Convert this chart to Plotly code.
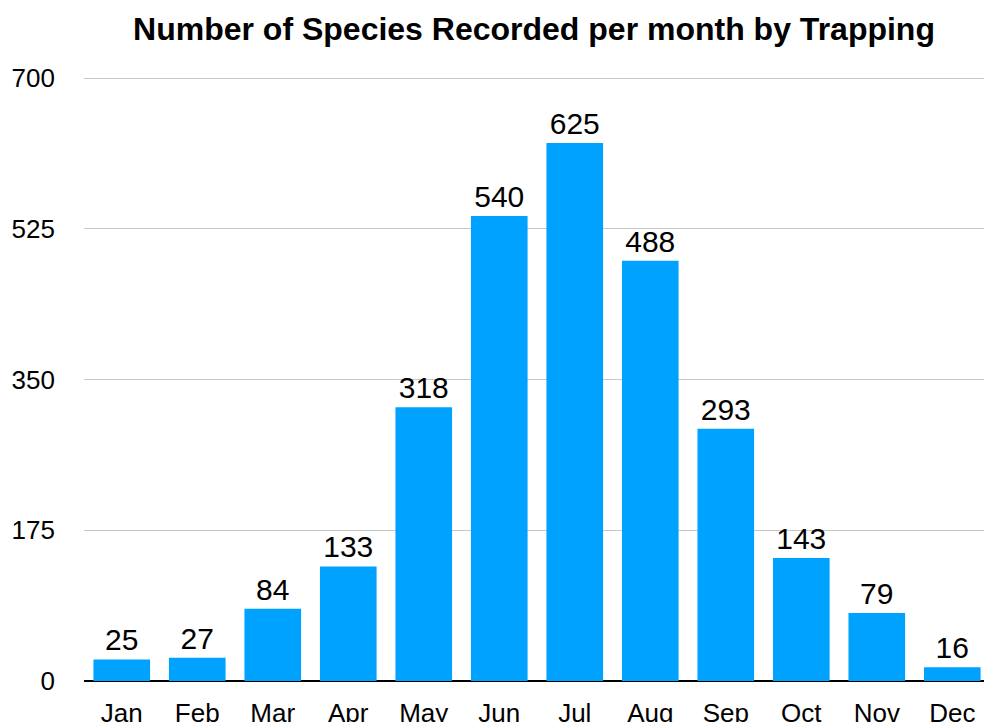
import plotly.graph_objects as go

months = ["Jan", "Feb", "Mar", "Apr", "May", "Jun", "Jul", "Aug", "Sep", "Oct", "Nov", "Dec"]
species = [25, 27, 84, 133, 318, 540, 625, 488, 293, 143, 79, 16]
y_ticks = [0, 175, 350, 525, 700]

FONT = "Liberation Sans, Arial, Helvetica, sans-serif"

fig = go.Figure(go.Bar(
    x=months, y=species,
    marker=dict(color="#00A2FF", line=dict(width=0)),
    text=[str(v) for v in species],
    textposition="outside",
    textfont=dict(family=FONT, size=30, color="black"),
    cliponaxis=False,
))

fig.update_layout(
    width=984, height=722,
    margin=dict(l=84, r=0, t=74, b=41),
    paper_bgcolor="white", plot_bgcolor="white",
    bargap=0.25,
    showlegend=False,
    font=dict(family=FONT, size=26, color="black"),
    title=dict(
        text="<b>Number of Species Recorded per month by Trapping</b>",
        x=0.5, xref="paper", xanchor="center",
        y=1 - 29 / 722, yref="container", yanchor="middle",
        font=dict(family=FONT, size=32, color="black"),
    ),
    xaxis=dict(
        range=[-0.5, 11.42],
        showgrid=False, showline=False, zeroline=False,
        ticks="", tickfont=dict(size=26), ticklabelstandoff=14,
        automargin=False,
    ),
    yaxis=dict(
        range=[0, 705],
        tickvals=y_ticks, ticktext=[str(v) for v in y_ticks],
        showgrid=True, gridcolor="#C8C8C8", gridwidth=1,
        zeroline=True, zerolinecolor="black", zerolinewidth=2,
        showline=False, ticks="", ticklabelstandoff=28,
        tickfont=dict(size=26), automargin=False,
    ),
)

fig.write_html(
    "out.html",
    config={"displayModeBar": False},
    post_script="document.body.style.margin='0';document.body.style.overflow='hidden';",
)
